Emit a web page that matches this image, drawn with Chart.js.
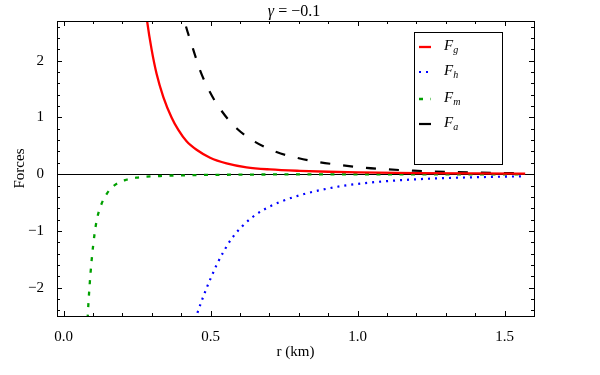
<!DOCTYPE html>
<html>
<head>
<meta charset="utf-8">
<script src="https://cdn.jsdelivr.net/npm/chart.js@4.4.1/dist/chart.umd.min.js"></script>
<style>
	html, body { margin: 0; padding: 0; background: #fff; }
</style>
</head>
<body>
<canvas id="forces" width="600" height="375"></canvas>
<script>
// values, r in km
const rG		= [ 0.27, 0.284, 0.299, 0.316, 0.339, 0.367, 0.390, 0.418, 0.452, 0.498, 0.554, 0.622, 0.702, 0.804, 0.9, 1.0, 1.2, 1.4, 1.57 ];
const forceG	= [ 3.3, 2.69, 2.20, 1.77, 1.36, 1.0, 0.78, 0.58, 0.43, 0.29, 0.19, 0.12, 0.083, 0.058, 0.043, 0.033, 0.02, 0.013, 0.009 ];

const rH		= [ 0.44, 0.452, 0.469, 0.486, 0.503, 0.522, 0.549, 0.571, 0.605, 0.639, 0.679, 0.736, 0.804, 0.878, 0.951, 1.048, 1.2, 1.371, 1.57 ];
const forceH	= [ -2.68, -2.49, -2.24, -2.01, -1.80, -1.58, -1.32, -1.14, -0.93, -0.77, -0.63, -0.49, -0.37, -0.275, -0.205, -0.145, -0.09, -0.058, -0.037 ];

const rM		= [ 0.080, 0.082, 0.085, 0.089, 0.094, 0.101, 0.112, 0.129, 0.146, 0.169, 0.209, 0.248, 0.328, 0.44, 0.6, 0.8, 1.0, 1.3, 1.57 ];
const forceM	= [ -2.75, -2.49, -2.20, -1.90, -1.58, -1.22, -0.82, -0.52, -0.35, -0.21, -0.105, -0.062, -0.032, -0.017, -0.008, -0.004, -0.002, -0.001, -0.001 ];

const rA		= [ 0.398, 0.411, 0.440, 0.464, 0.496, 0.535, 0.588, 0.651, 0.724, 0.80, 0.872, 0.95, 1.018, 1.1, 1.19, 1.3, 1.416, 1.57 ];
const forceA	= [ 3.0, 2.70, 2.21, 1.83, 1.46, 1.13, 0.81, 0.57, 0.39, 0.28, 0.21, 0.155, 0.115, 0.085, 0.062, 0.04, 0.027, 0.015 ];

const legendSubs	= [ 'g', 'h', 'm', 'a' ];

const xTicks	= [ 0, 0.5, 1.0, 1.5 ];
const yTicks	= [ -2, -1, 0, 1, 2 ];
const xMinor	= [ 0.1, 0.2, 0.3, 0.4, 0.6, 0.7, 0.8, 0.9, 1.1, 1.2, 1.3, 1.4, 1.6 ];
const yMinor	= [ -2.4, -2.2, -1.8, -1.6, -1.4, -1.2, -0.8, -0.6, -0.4, -0.2, 0.2, 0.4, 0.6, 0.8, 1.2, 1.4, 1.6, 1.8, 2.2, 2.4, 2.6 ];

const X_MIN	= -0.0228;
const X_MAX	= 1.6;
const Y_MIN	= -2.5;
const Y_MAX	= 2.7;

const SERIF	= '"Liberation Serif", "Times New Roman", serif';

function pts( rs, vs ) {
	return rs.map( ( r, i ) => ( { x: r, y: vs[ i ] } ) );
}

function minus( v ) {
	return String( v ).replace( '-', '\u2212' );
}

function series( data, color, width, dash ) {
	return {
		data: data,
		borderColor: color,
		borderWidth: width,
		borderDash: dash,
		borderCapStyle: 'butt',
		pointRadius: 0,
		fill: false,
		cubicInterpolationMode: 'monotone'
	};
}

const frame = {
	id: 'frame',
	beforeDatasetsDraw( chart ) {
		const ctx	= chart.ctx;
		const a		= chart.chartArea;
		const y0	= Math.round( chart.scales.y.getPixelForValue( 0 ) ) + 0.5;

		ctx.save();
		ctx.strokeStyle	= '#000';
		ctx.lineWidth	= 1;
		ctx.beginPath();
		ctx.moveTo( a.left, y0 );
		ctx.lineTo( a.right, y0 );
		ctx.stroke();
		ctx.restore();
	},
	afterDatasetsDraw( chart ) {
		const ctx	= chart.ctx;
		const a		= chart.chartArea;
		const xs	= chart.scales.x;
		const ys	= chart.scales.y;

		ctx.save();
		ctx.strokeStyle	= '#000';
		ctx.lineWidth	= 1;
		ctx.strokeRect( Math.round( a.left ) + 0.5, Math.round( a.top ) + 0.5, Math.round( a.right - a.left ), Math.round( a.bottom - a.top ) );

		ctx.beginPath();
		const xMark = ( v, len ) => {
			const px = Math.round( xs.getPixelForValue( v ) ) + 0.5;
			ctx.moveTo( px, a.bottom );	ctx.lineTo( px, a.bottom - len );
			ctx.moveTo( px, a.top );	ctx.lineTo( px, a.top + len );
		};
		const yMark = ( v, len ) => {
			const py = Math.round( ys.getPixelForValue( v ) ) + 0.5;
			ctx.moveTo( a.left, py );	ctx.lineTo( a.left + len, py );
			ctx.moveTo( a.right, py );	ctx.lineTo( a.right - len, py );
		};
		for ( const v of xTicks ) xMark( v, 5 );
		for ( const v of xMinor ) xMark( v, 3 );
		for ( const v of yTicks ) yMark( v, 5 );
		for ( const v of yMinor ) yMark( v, 3 );
		ctx.stroke();

		// legend box
		const bx = 414.5, by = 32.5, bw = 88, bh = 132;
		const rows = [ 47, 72, 99, 124 ];
		ctx.fillStyle = '#fff';
		ctx.fillRect( bx, by, bw, bh );
		ctx.strokeRect( bx, by, bw, bh );

		chart.data.datasets.forEach( ( ds, i ) => {
			const y = rows[ i ];
			ctx.save();
			ctx.strokeStyle	= ds.borderColor;
			ctx.lineWidth	= ds.borderWidth;
			ctx.setLineDash( i == 3 ? [] : ds.borderDash );
			ctx.beginPath();
			ctx.moveTo( 419, y );
			ctx.lineTo( 431, y );
			ctx.stroke();
			ctx.restore();

			ctx.fillStyle		= '#000';
			ctx.textBaseline	= 'alphabetic';
			ctx.textAlign		= 'left';
			ctx.font	= 'italic 15px ' + SERIF;
			ctx.fillText( 'F', 444, y + 3 );
			const fw	= ctx.measureText( 'F' ).width;
			ctx.font	= 'italic 10px ' + SERIF;
			ctx.fillText( legendSubs[ i ], 444 + fw, y + 6 );
		} );

		// title
		ctx.font	= 'italic 16px ' + SERIF;
		const gw	= ctx.measureText( '\u03b3' ).width;
		ctx.font	= '16px ' + SERIF;
		const rest	= ' = \u22120.1';
		const rw	= ctx.measureText( rest ).width;
		const tx	= 294 - ( gw + rw ) / 2;
		ctx.fillStyle	= '#000';
		ctx.textAlign	= 'left';
		ctx.font	= 'italic 16px ' + SERIF;
		ctx.fillText( '\u03b3', tx, 16 );
		ctx.font	= '16px ' + SERIF;
		ctx.fillText( rest, tx + gw, 16 );

		ctx.restore();
	}
};

const cs = {
	type: 'line',
	data: {
		datasets: [
			series( pts( rG, forceG ), '#ff0000', 2.3, [] ),
			series( pts( rH, forceH ), '#0000ff', 2.2, [ 2, 5 ] ),
			series( pts( rM, forceM ), '#00a000', 2.3, [ 4, 7.5 ] ),
			series( pts( rA, forceA ), '#000000', 2.2, [ 10, 13 ] )
		]
	},
	options: {
		responsive: false,
		animation: false,
		devicePixelRatio: 1,
		layout: { padding: { left: 0, right: 66, top: 21, bottom: 0 } },
		plugins: {
			legend: { display: false },
			tooltip: { enabled: false }
		},
		scales: {
			x: {
				type: 'linear',
				min: X_MIN,
				max: X_MAX,
				grid: { display: false },
				border: { display: false },
				afterBuildTicks: s => { s.ticks = xTicks.map( v => ( { value: v } ) ); },
				afterFit: s => { s.height = 59; },
				ticks: {
					padding: 4,
					color: '#000',
					maxRotation: 0,
					font: { family: SERIF, size: 15 },
					callback: v => v.toFixed( 1 )
				},
				title: {
					display: true,
					text: 'r (km)',
					color: '#000',
					font: { family: SERIF, size: 15 },
					padding: { top: 0, bottom: 14 }
				}
			},
			y: {
				type: 'linear',
				min: Y_MIN,
				max: Y_MAX,
				grid: { display: false },
				border: { display: false },
				afterBuildTicks: s => { s.ticks = yTicks.map( v => ( { value: v } ) ); },
				afterFit: s => { s.width = 57; },
				ticks: {
					padding: 5,
					color: '#000',
					font: { family: SERIF, size: 15 },
					callback: v => minus( v )
				},
				title: {
					display: true,
					text: 'Forces',
					color: '#000',
					font: { family: SERIF, size: 15 },
					padding: { top: 11, bottom: 0 }
				}
			}
		}
	},
	plugins: [ frame ]
};

window.addEventListener( 'load', function () {
	new Chart( document.getElementById( 'forces' ), cs );
} );
</script>
</body>
</html>
